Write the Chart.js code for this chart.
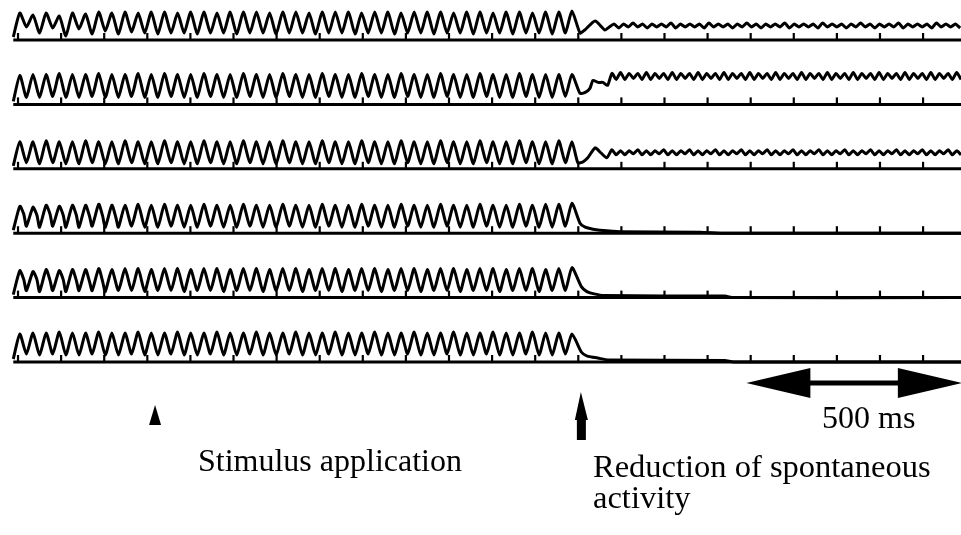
<!DOCTYPE html>
<html>
<head>
<meta charset="utf-8">
<title>Spontaneous activity traces</title>
<style>
  html, body { margin: 0; padding: 0; background: #fff; }
  #wrap { position: relative; width: 961px; height: 535px; overflow: hidden; }
  #chart { position: absolute; left: 0; top: 0; }
  .lbl {
    position: absolute;
    font-family: "Liberation Serif", "Times New Roman", serif;
    font-size: 32px;
    line-height: 31px;
    color: #000;
    white-space: nowrap;
  }
</style>
</head>
<body>
<div id="wrap">
  <canvas id="chart" width="961" height="535"></canvas>
  <div class="lbl" style="left:198px; top:445px;">Stimulus application</div>
  <div class="lbl" style="left:822px; top:402px;">500 ms</div>
  <div class="lbl" style="left:593px; top:451px; font-size:32.5px;">Reduction of spontaneous<br>activity</div>
</div>

<script src="https://cdn.jsdelivr.net/npm/chart.js@4.4.1/dist/chart.umd.min.js"></script>
<script>
// time axis (ms) and time markers every 100 ms
const xMinMs = -41.8;
const xMaxMs = 2188;
const tickMs = [0, 100, 200, 300, 400, 500, 600, 700, 800, 900, 1000,
                1100, 1200, 1300, 1400, 1500, 1600, 1700, 1800, 1900, 2000, 2100];

// spontaneous oscillation before the reduction (one trough + one peak per cycle)
const traceStartMs = -11;
const cyclePeriodMs = 30.5;

// trace 1
const peaks1 = [27,25,27,24,27,26,28,27,28,27,
                28,28,27,28,28,27,28,28,28,27,
                28,28,27,28,28,28,27,28,28,27,
                28,28,28,27,28,28,27,28,28,27,
                28,28,29];
const troughs1 = [3,13,7,12,4,11,6,9,6,8,
                  7,6,7,7,6,7,7,6,7,7,
                  6,7,7,6,7,7,6,7,7,6,
                  7,7,6,7,7,6,7,7,6,7,
                  7,6,7];
const tail1 = [[1304, 7], [1315, 10], [1339, 19], [1362, 10]];
const ripple1Start = 1372, ripple1Period = 22;
const ripple1Lo = [13,12,13,13,12,13,13,12,13,13,
                   12,13,13,12,13,13,12,13,13,12,
                   13,13,12,13,13,12,13,13,12,13,
                   13,12,13,13,12,13,13,12];
const ripple1Hi = [16,16,17,16,16,16,17,16,16,16,
                   17,16,16,16,17,16,16,16,17,16,
                   16,16,17,16,16,16,17,16,16,16,
                   17,16,16,16,17,16,16];

// trace 2
const peaks2 = [29,30,30,31,30,30,31,30,30,31,
                30,31,30,30,31,30,30,31,30,30,
                31,30,30,31,30,30,31,30,30,31,
                30,30,31,30,30,31,30,30,31,30,
                30,30,30];
const troughs2 = [3,7,7,8,7,7,8,7,7,8,
                  7,7,8,7,7,8,7,7,8,7,
                  7,8,7,7,8,7,7,8,7,7,
                  8,7,7,8,7,7,8,7,7,8,
                  7,7,8];
const tail2 = [[1304, 11], [1316, 12], [1327, 16], [1334, 24], [1346, 22], [1357, 22], [1368, 19]];
const ripple2Start = 1378, ripple2Period = 20;
const ripple2Hi = [31,32,31,31,32,31,31,32,31,31,
                   32,31,31,32,31,31,32,31,31,32,
                   31,31,32,31,31,32,31,31,32,31,
                   31,32,31,31,32,31,31,32,31,31,
                   32];
const ripple2Lo = [25,25,26,25,25,26,25,25,26,25,
                   25,26,25,25,26,25,25,26,25,25,
                   26,25,25,26,25,25,26,25,25,26,
                   25,25,26,25,25,26,25,25,26,25,
                   25];

// trace 3
const peaks3 = [27,27,28,27,27,28,27,27,28,27,
                27,28,27,27,28,27,27,28,27,27,
                28,27,27,28,27,27,28,27,27,28,
                27,27,28,27,27,28,27,27,28,27,
                27,28,27];
const troughs3 = [3,6,5,6,5,5,6,5,5,6,
                  5,5,6,5,5,6,5,5,6,5,
                  5,6,5,5,6,5,5,6,5,5,
                  6,5,5,6,5,5,6,5,5,6,
                  5,5,6];
const tail3 = [[1299, 6], [1311, 7], [1322, 11], [1339, 21], [1350, 17], [1366, 11]];
const ripple3Start = 1378, ripple3Period = 20;
const ripple3Hi = [19,18,18,19,18,18,19,18,18,19,
                   18,18,19,18,18,19,18,18,19,18,
                   18,19,18,18,19,18,18,19,18,18,
                   19,18,18,19,18,18,19,18,18,19,
                   18];
const ripple3Lo = [14,14,15,14,14,15,14,14,15,14,
                   14,15,14,14,15,14,14,15,14,14,
                   15,14,14,15,14,14,15,14,14,15,
                   14,14,15,14,14,15,14,14,15,14,
                   14];

// trace 4
const peaks4 = [27,26,28,27,28,28,29,28,28,29,
                28,29,28,28,29,28,28,29,28,28,
                29,28,28,29,28,28,29,28,28,29,
                28,28,29,28,28,29,28,28,29,28,
                29,29,30];
const troughs4 = [3,7,6,7,6,6,7,6,6,7,
                  6,6,7,6,6,7,6,6,7,6,
                  6,7,6,6,7,6,6,7,6,6,
                  7,6,6,7,6,6,7,6,6,7,
                  6,6,7];
const shoulders4 = [19,18,19,18,18,17,17,16];
const tail4 = [[1304, 10], [1316, 6], [1334, 4], [1350, 3], [1397, 1.5], [1582, 1], [1640, 0], [2188, 0]];

// trace 5
const peaks5 = [27,26,28,27,28,28,29,28,29,29,
                28,29,29,28,29,29,28,29,29,28,
                29,29,28,29,29,28,29,29,28,29,
                29,28,29,29,28,29,29,28,29,29,
                28,29,30];
const troughs5 = [3,7,6,7,6,7,7,6,7,7,
                  6,7,7,6,7,7,6,7,7,6,
                  7,7,6,7,7,6,7,7,6,7,
                  7,6,7,7,6,7,7,6,7,7,
                  6,7,7];
const shoulders5 = [18,18,17,18,17,16,16];
const tail5 = [[1307, 11], [1320, 6], [1334, 4], [1360, 2], [1640, 1.5], [1660, 0], [2188, 0]];

// trace 6
const peaks6 = [28,29,29,30,29,29,30,29,29,30,
                29,29,30,29,29,30,29,29,30,29,
                29,30,29,29,30,29,29,30,29,29,
                30,29,29,30,29,29,30,29,29,30,
                29,29,28];
const troughs6 = [3,8,7,8,7,7,8,7,7,8,
                  7,7,8,7,7,8,7,7,8,7,
                  7,8,7,7,8,7,7,8,7,7,
                  8,7,7,8,7,7,8,7,7,8,
                  7,7,8];
const tail6 = [[1307, 10], [1320, 6], [1331, 5], [1345, 4], [1370, 2], [1640, 1.5], [1660, 0], [2188, 0]];

// annotations (ms on the time axis)
const stimulusMs = 318;
const reductionMs = 1306;
const scaleBarStartMs = 1690;
const scaleBarLengthMs = 500;

// layout of the stacked traces
const topBaseline = 495;
const traceSpacing = 64.4;
const INK = '#000';

function buildTrace(base, peaks, troughs, shoulders, tail, ripple) {
  const pts = [];
  for (let k = 0; k < peaks.length; k++) {
    const t0 = traceStartMs + k * cyclePeriodMs;
    pts.push({ x: t0, y: base + troughs[k] });
    pts.push({ x: t0 + cyclePeriodMs / 2, y: base + peaks[k] });
    if (shoulders && shoulders[k]) {
      pts.push({ x: t0 + cyclePeriodMs * 0.8, y: base + shoulders[k] });
    }
  }
  tail.forEach(([t, v]) => pts.push({ x: t, y: base + v }));
  if (ripple) {
    const first = ripple.highFirst ? ripple.hi : ripple.lo;
    const second = ripple.highFirst ? ripple.lo : ripple.hi;
    const n = Math.max(first.length, second.length);
    for (let i = 0; i < n; i++) {
      const t = ripple.start + i * ripple.period;
      if (i < first.length) pts.push({ x: t, y: base + first[i] });
      if (i < second.length) pts.push({ x: t + ripple.period / 2, y: base + second[i] });
    }
  }
  return pts;
}

const traces = [
  { peaks: peaks1, troughs: troughs1, shoulders: null, tail: tail1,
    ripple: { start: ripple1Start, period: ripple1Period, hi: ripple1Hi, lo: ripple1Lo, highFirst: false } },
  { peaks: peaks2, troughs: troughs2, shoulders: null, tail: tail2,
    ripple: { start: ripple2Start, period: ripple2Period, hi: ripple2Hi, lo: ripple2Lo, highFirst: true } },
  { peaks: peaks3, troughs: troughs3, shoulders: null, tail: tail3,
    ripple: { start: ripple3Start, period: ripple3Period, hi: ripple3Hi, lo: ripple3Lo, highFirst: true } },
  { peaks: peaks4, troughs: troughs4, shoulders: shoulders4, tail: tail4, ripple: null },
  { peaks: peaks5, troughs: troughs5, shoulders: shoulders5, tail: tail5, ripple: null },
  { peaks: peaks6, troughs: troughs6, shoulders: null, tail: tail6, ripple: null }
];

const datasets = [];
traces.forEach((tr, i) => {
  const base = topBaseline - i * traceSpacing;
  datasets.push({
    label: 'trace ' + (i + 1),
    data: buildTrace(base, tr.peaks, tr.troughs, tr.shoulders, tr.tail, tr.ripple),
    borderColor: INK,
    borderWidth: 3,
    tension: 0.2,
    pointRadius: 0,
    borderJoinStyle: 'round'
  });
});
traces.forEach((tr, i) => {
  const base = topBaseline - i * traceSpacing;
  // time marker line
  datasets.push({
    label: 'baseline ' + (i + 1),
    data: [{ x: traceStartMs, y: base }, { x: xMaxMs, y: base }],
    borderColor: INK,
    borderWidth: 3,
    pointRadius: 0
  });
  // 100 ms ticks
  datasets.push({
    label: 'ticks ' + (i + 1),
    data: tickMs.map(t => ({ x: t, y: base + 3.5 })),
    showLine: false,
    pointStyle: 'line',
    rotation: 90,
    pointRadius: 3.5,
    borderWidth: 2.2,
    borderColor: INK,
    backgroundColor: INK
  });
});

// arrows and 500 ms scale bar
const annotationPlugin = {
  id: 'arrows',
  afterDatasetsDraw(chart) {
    const c = chart.ctx;
    const xs = chart.scales.x;
    c.save();
    c.fillStyle = INK;

    // small arrow: stimulus application
    const sx = xs.getPixelForValue(stimulusMs);
    c.beginPath();
    c.moveTo(sx, 405);
    c.lineTo(sx + 6, 425);
    c.lineTo(sx - 6, 425);
    c.closePath();
    c.fill();

    // tall arrow: reduction of spontaneous activity
    const rx = xs.getPixelForValue(reductionMs);
    c.beginPath();
    c.moveTo(rx, 392);
    c.lineTo(rx + 7, 420);
    c.lineTo(rx + 5, 420);
    c.lineTo(rx + 5, 440);
    c.lineTo(rx - 4, 440);
    c.lineTo(rx - 4, 420);
    c.lineTo(rx - 6, 420);
    c.closePath();
    c.fill();

    // double headed scale bar
    const x0 = xs.getPixelForValue(scaleBarStartMs);
    const x1 = xs.getPixelForValue(scaleBarStartMs + scaleBarLengthMs);
    const cy = 383, head = 64, half = 15, shaft = 2.6;
    c.beginPath();
    c.moveTo(x0, cy);
    c.lineTo(x0 + head, cy - half);
    c.lineTo(x0 + head, cy - shaft);
    c.lineTo(x1 - head, cy - shaft);
    c.lineTo(x1 - head, cy - half);
    c.lineTo(x1, cy);
    c.lineTo(x1 - head, cy + half);
    c.lineTo(x1 - head, cy + shaft);
    c.lineTo(x0 + head, cy + shaft);
    c.lineTo(x0 + head, cy + half);
    c.closePath();
    c.fill();
    c.restore();
  }
};

const chart = new Chart(document.getElementById('chart').getContext('2d'), {
  type: 'line',
  data: { datasets: datasets },
  options: {
    responsive: false,
    animation: false,
    events: [],
    layout: { padding: 0, autoPadding: false },
    plugins: { legend: { display: false }, tooltip: { enabled: false } },
    scales: {
      x: { type: 'linear', min: xMinMs, max: xMaxMs, display: false },
      y: { type: 'linear', min: 0, max: 535, display: false }
    }
  },
  plugins: [annotationPlugin]
});
</script>
</body>
</html>
